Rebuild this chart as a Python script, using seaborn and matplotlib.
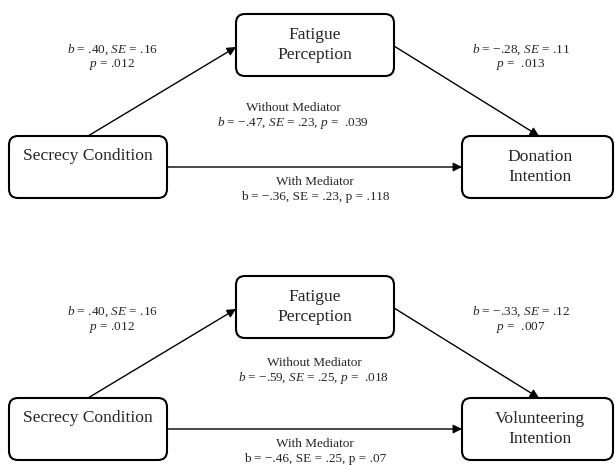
import matplotlib
matplotlib.use("Agg")
import seaborn as sns
import matplotlib.pyplot as plt
from matplotlib.patches import FancyBboxPatch

sns.set_style("white")
plt.rcParams['font.family'] = ['Liberation Serif', 'DejaVu Serif']
plt.rcParams['mathtext.fontset'] = 'custom'
plt.rcParams['mathtext.rm'] = 'Liberation Serif'
plt.rcParams['mathtext.it'] = 'Liberation Serif:italic'

# path coefficients for the two mediation models
predictor = "Secrecy Condition"
mediator = "Fatigue\nPerception"
outcomes = ["Donation\nIntention", "Volunteering\nIntention"]

a_b = [".40", ".40"]
a_se = [".16", ".16"]
a_p = [".012", ".012"]

b_b = ["\u2212.28", "\u2212.33"]
b_se = [".11", ".12"]
b_p = [".013", ".007"]

c_b = ["\u2212.47", "\u2212.59"]
c_se = [".23", ".25"]
c_p = [".039", ".018"]

cp_b = ["\u2212.36", "\u2212.46"]
cp_se = [".23", ".25"]
cp_p = [".118", ".07"]

fig = plt.figure(figsize=(6.15, 4.65), dpi=100)
ax = fig.add_axes([0, 0, 1, 1])
ax.set_xlim(0, 615)
ax.set_ylim(465, 0)
ax.axis('off')

big = 12.6
small = 9.5


def box(x, y, w, h):
    ax.add_patch(FancyBboxPatch((x, y), w, h,
                                boxstyle="round,pad=0,rounding_size=9",
                                fc="white", ec="black", lw=1.5))


def arrow(p0, p1):
    ax.annotate("", xy=p1, xytext=p0,
                arrowprops=dict(arrowstyle="-|>", lw=1.0, color="black",
                                mutation_scale=13, shrinkA=0, shrinkB=0))


offsets = [0, 262]
wo_dy = [0, -7]
wo_x = [293, 314]

for i, y0 in enumerate(offsets):
    # boxes
    box(9, 136 + y0, 158, 62)
    box(236, 14 + y0, 158, 62)
    box(462, 136 + y0, 151, 62)
    ax.text(88, 156 + y0, predictor, ha="center", va="center", fontsize=big)
    ax.text(315, 45 + y0, mediator, ha="center", va="center", fontsize=big,
            linespacing=1.3)
    ax.text(540, 167 + y0, outcomes[i], ha="center", va="center", fontsize=big,
            linespacing=1.3)

    # paths
    arrow((88, 136 + y0), (236, 47 + y0))
    arrow((394, 46 + y0), (539, 136 + y0))
    arrow((168, 167 + y0), (462, 167 + y0))

    # a path
    ax.text(112, 50 + y0, "$b$ = " + a_b[i] + ", $SE$ = " + a_se[i],
            ha="center", va="center", fontsize=small)
    ax.text(112, 65 + y0, "$p$ = " + a_p[i],
            ha="center", va="center", fontsize=small)
    # b path
    ax.text(521, 50 + y0, "$b$ = " + b_b[i] + ", $SE$ = " + b_se[i],
            ha="center", va="center", fontsize=small)
    ax.text(521, 65 + y0, "$p$ =  " + b_p[i],
            ha="center", va="center", fontsize=small)
    # total effect
    ax.text(wo_x[i], 108 + y0 + wo_dy[i], "Without Mediator",
            ha="center", va="center", fontsize=small)
    ax.text(wo_x[i], 123 + y0 + wo_dy[i],
            "$b$ = " + c_b[i] + ", $SE$ = " + c_se[i] + ", $p$ =  " + c_p[i],
            ha="center", va="center", fontsize=small)
    # direct effect
    ax.text(315, 182 + y0, "With Mediator",
            ha="center", va="center", fontsize=small)
    ax.text(315, 197 + y0,
            "b = " + cp_b[i] + ", SE = " + cp_se[i] + ", p = " + cp_p[i],
            ha="center", va="center", fontsize=small)

fig.savefig("out.png", dpi=100)
